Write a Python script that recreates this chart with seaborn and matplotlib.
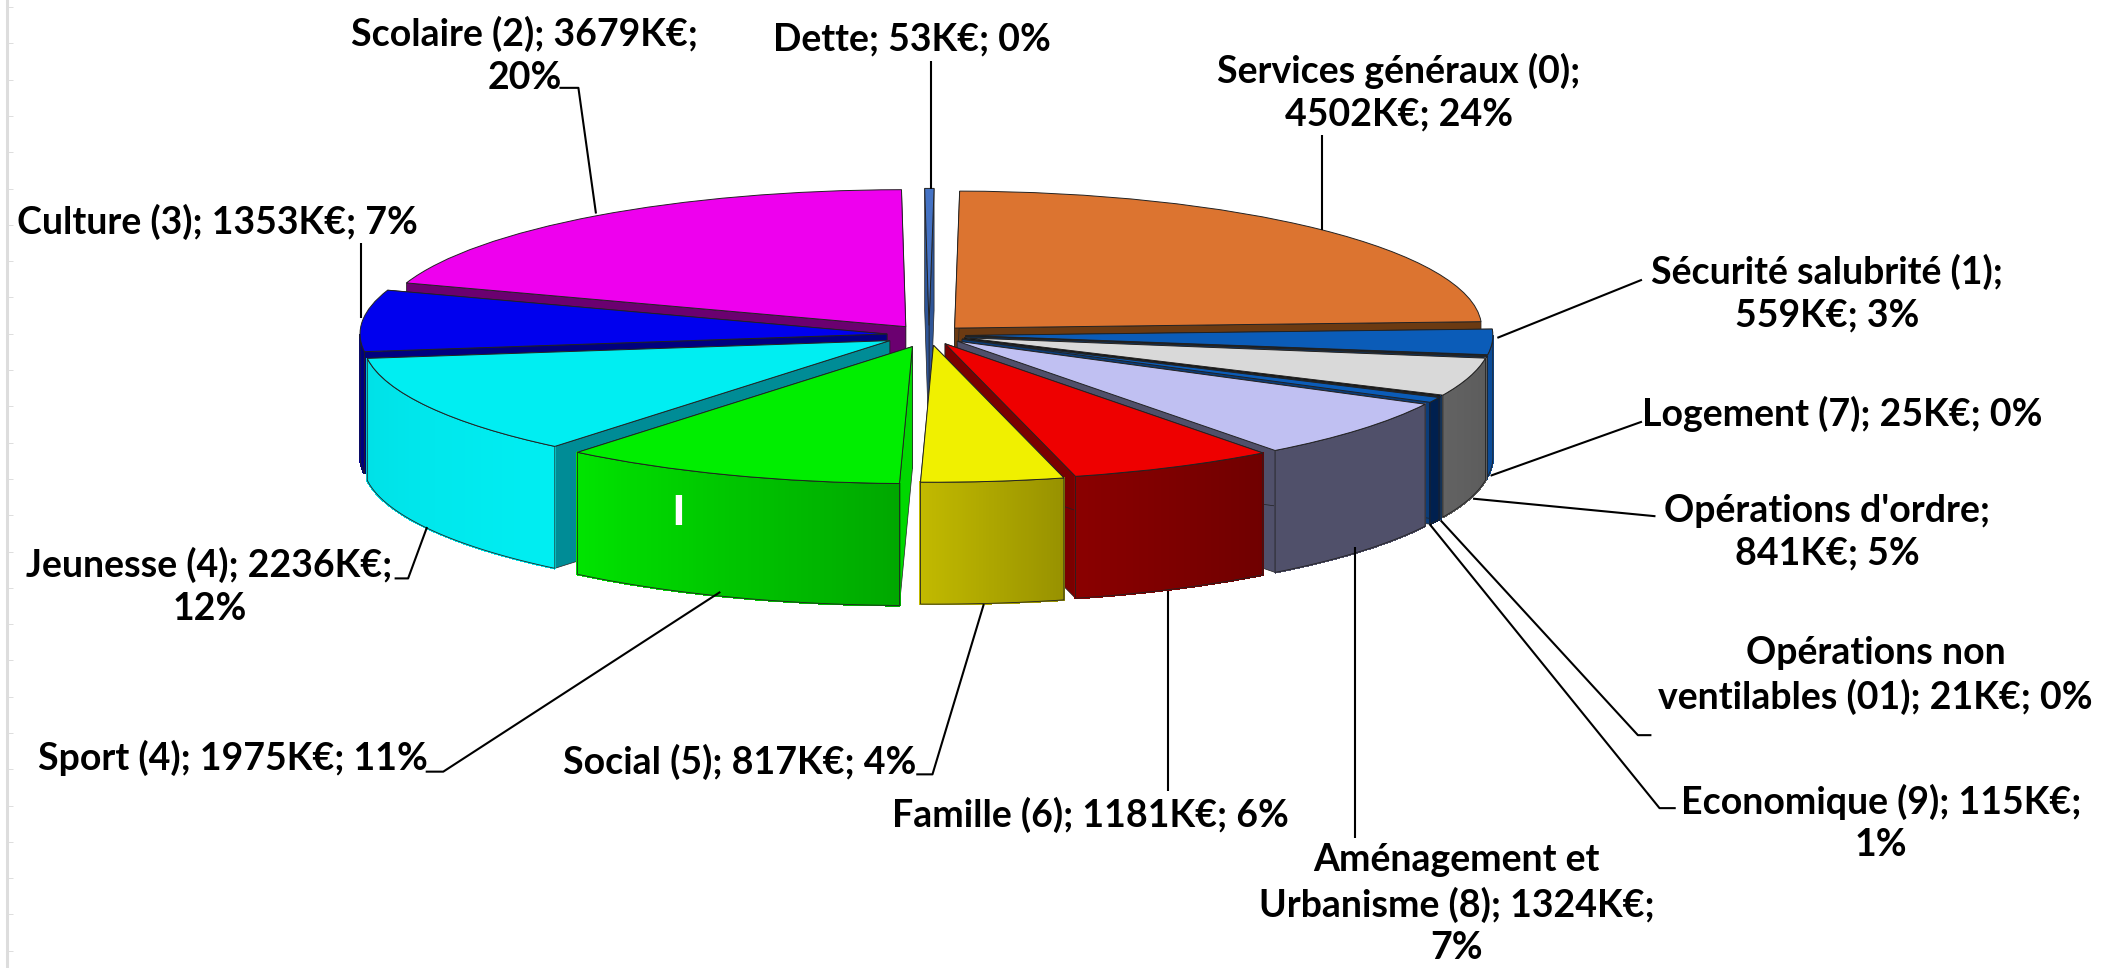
import numpy as np
import matplotlib
matplotlib.use("Agg")
import matplotlib.pyplot as plt
from matplotlib.colors import to_rgb
from matplotlib.patches import Polygon
import seaborn as sns

W, H = 2119, 968
sns.set_theme(style="white")
plt.rcParams['font.family'] = ['Lato', 'DejaVu Sans']

names = ["Services généraux (0)", "Sécurité salubrité (1)", "Logement (7)", "Opérations d'ordre",
         "Opérations non ventilables (01)", "Economique (9)", "Aménagement et Urbanisme (8)",
         "Famille (6)", "Social (5)", "Sport (4)", "Jeunesse (4)", "Culture (3)", "Scolaire (2)", "Dette"]
values = [4502, 559, 25, 841, 21, 115, 1324, 1181, 817, 1975, 2236, 1353, 3679, 53]
top_colors = ["#DC7430", "#0B5CB8", "#0B3C78", "#D9D9D9", "#0B3C78", "#0B5CB8", "#C0C0F2",
              "#EE0000", "#F0F000", "#00EE00", "#00EEF2", "#0000EE", "#EE00EE", "#4472C4"]
cut_colors = ["#6B3A12", "#000000", "#0B3C78", "#101010", "#0B3C78", "#0B3C78", "#50506A",
              "#7A0000", "#C0B800", "#00D800", "#008C96", "#00007F", "#6B0070", "#2F5597"]
wall_left = ["#6B3A12", "#0B4C9A", "#0B3C78", "#626262", "#0B3C78", "#00204F", "#50506A",
             "#8A0000", "#C2BA00", "#00E400", "#00E0E6", "#00009A", "#6B0070", "#2F5597"]
wall_right = ["#6B3A12", "#0B4C9A", "#0B3C78", "#5C5C5C", "#0B3C78", "#00204F", "#50506A",
              "#700000", "#989200", "#00A800", "#00EEF2", "#00007A", "#6B0070", "#2F5597"]
explode = [0.07, 0.07, 0.07, 0.07, 0.07, 0.07, 0.07, 0.07, 0.075, 0.09, 0.085, 0.08, 0.075, 0.07]
paint_order = [13, 12, 0, 11, 1, 2, 3, 4, 5, 10, 6, 7, 9, 8]

label_lines = ["Services généraux (0);\n4502K€; 24%", "Sécurité salubrité (1);\n559K€; 3%",
               "Logement (7); 25K€; 0%", "Opérations d'ordre;\n841K€; 5%",
               "Opérations non\nventilables (01); 21K€; 0%", "Economique (9); 115K€;\n1%",
               "Aménagement et\nUrbanisme (8); 1324K€;\n7%", "Famille (6); 1181K€; 6%",
               "Social (5); 817K€; 4%", "Sport (4); 1975K€; 11%", "Jeunesse (4); 2236K€;\n12%",
               "Culture (3); 1353K€; 7%", "Scolaire (2); 3679K€;\n20%", "Dette; 53K€; 0%"]
# label centres and leader paths, in the 1568-wide view of the layout
label_pos = [(1035, 68), (1352, 217), (1363, 306), (1352, 394), (1388, 500), (1392, 609),
             (1078, 669), (807, 603), (547, 564), (172, 561), (155, 434), (161, 164), (388, 41), (675, 29)]
leaders = [[(978, 100), (978, 170)], [(1215, 207), (1108, 250)], [(1215, 312), (1103, 352)],
           [(1225, 382), (1090, 369)], [(1222, 544), (1212, 544), (1066, 385)],
           [(1240, 598), (1228, 598), (1058, 388)], [(1003, 620), (1003, 405)], [(864, 585), (864, 437)],
           [(678, 573), (690, 573), (728, 447)], [(315, 571), (328, 571), (533, 438)],
           [(292, 428), (302, 428), (316, 390)], [(267, 180), (267, 235)],
           [(414, 65), (428, 65), (441, 158)], [(689, 45), (689, 140)]]
view = W / 1568

fig = plt.figure(figsize=(W / 100, H / 100), dpi=100, facecolor="white")

# Pie drawn in unit coordinates, squashed by the axis limits to give the tilted ellipse
a, b, cx, cy, thick = 527.0, 137.0, 929.0, 335.0, 0.89
ax = fig.add_axes([0, 0, 1, 1])
wedges, _ = ax.pie(values, startangle=89.45, counterclock=False, explode=explode,
                   colors=top_colors, radius=1.0, normalize=True,
                   wedgeprops=dict(edgecolor="#222222", linewidth=0.7))
ax.set_aspect("auto")
ax.set_xlim(-cx / a, (W - cx) / a)
ax.set_ylim((cy - H) / b, cy / b)
ax.axis("off")


def pt(c, ang):
    return c[0] + np.cos(np.radians(ang)), c[1] + np.sin(np.radians(ang))


for rank, i in enumerate(paint_order):
    w = wedges[i]
    c, t1, t2 = w.center, w.theta1, w.theta2
    z = 10 + rank * 10
    # radial cut faces
    for ang in (t1, t2):
        x, y = pt(c, ang)
        ax.add_patch(Polygon([c, (x, y), (x, y - thick), (c[0], c[1] - thick)], closed=True,
                             facecolor=cut_colors[i], edgecolor="#222222", linewidth=0.5, zorder=z))
    # outer wall, only the part that faces the viewer
    th = np.linspace(t1, t2, 90)
    th = th[np.sin(np.radians(th)) <= 0]
    if len(th) >= 2:
        xs = c[0] + np.cos(np.radians(th))
        ys = c[1] + np.sin(np.radians(th))
        order = np.argsort(xs)
        xs, ys = xs[order], ys[order]
        left, right = np.array(to_rgb(wall_left[i])), np.array(to_rgb(wall_right[i]))
        n = len(xs) - 1
        for k in range(n):
            col = left + (right - left) * k / max(n - 1, 1)
            ax.add_patch(Polygon([(xs[k], ys[k]), (xs[k + 1], ys[k + 1]),
                                  (xs[k + 1], ys[k + 1] - thick), (xs[k], ys[k] - thick)],
                                 closed=True, facecolor=col, edgecolor=col, linewidth=1.0,
                                 antialiased=False, zorder=z + 1))
        outline = list(zip(xs, ys)) + list(zip(xs[::-1], ys[::-1] - thick))
        ax.add_patch(Polygon(outline, closed=True, fill=False, edgecolor="#222222",
                             linewidth=0.6, zorder=z + 2))
    w.set_zorder(z + 3)

# Overlay in pixel coordinates for the labels and their leader lines
ov = fig.add_axes([0, 0, 1, 1], zorder=5)
ov.patch.set_visible(False)
ov.set_xlim(0, W)
ov.set_ylim(H, 0)
ov.axis("off")
for text, (lx, ly), path in zip(label_lines, label_pos, leaders):
    px = np.array(path) * view
    ov.plot(px[:, 0], px[:, 1], color="black", lw=1.5, solid_capstyle="butt")
    ov.text(lx * view, ly * view, text, ha="center", va="center", fontsize=27, fontweight="bold",
            color="black", linespacing=1.3)
ov.text(502 * view, 381 * view, "I", ha="center", va="center", fontsize=30, fontweight="bold",
        color="white", fontfamily="Open Sans")

# Faint ruler remnant on the left edge
ruler = fig.add_axes([7 / W, 0, 0.0001, 1], zorder=1)
ruler.patch.set_visible(False)
ruler.set_ylim(H, 0)
ruler.set_xticks([])
for s in ("top", "bottom", "right"):
    ruler.spines[s].set_visible(False)
ruler.spines["left"].set_color("#DDDDDD")
ruler.spines["left"].set_linewidth(2.2)
ruler.set_yticks(np.arange(7, H, 36.3))
ruler.tick_params(axis="y", direction="out", left=False, right=True, labelleft=False,
                  length=4.5, width=0.7, color="#DDDDDD")

fig.savefig("out.png", dpi=100, facecolor="white")
